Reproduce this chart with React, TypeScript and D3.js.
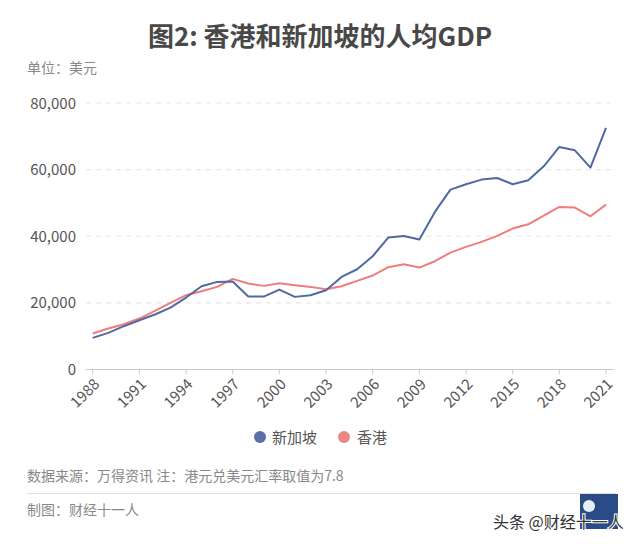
import React from "react";
import * as d3 from "d3";

const years = [1988,1989,1990,1991,1992,1993,1994,1995,1996,1997,1998,1999,2000,2001,2002,2003,2004,2005,2006,2007,2008,2009,2010,2011,2012,2013,2014,2015,2016,2017,2018,2019,2020,2021];
const singapore = [9500,11000,13000,14800,16500,18600,21600,25000,26300,26400,21900,21900,24000,21800,22300,23800,27800,30100,34000,39600,40100,39000,47300,54000,55600,57000,57500,55600,56800,61000,66800,65800,60600,72500];
const hongkong = [10800,12300,13600,15300,17600,20000,22300,23500,24800,27200,25800,25100,25900,25300,24800,24100,25000,26600,28200,30700,31600,30600,32500,35100,36800,38300,40100,42300,43600,46200,48800,48600,46000,49500];
const yTicks = [0,20000,40000,60000,80000];
const xTickYears = [1988,1991,1994,1997,2000,2003,2006,2009,2012,2015,2018,2021];
const seriesNames = ["新加坡","香港"];

const W = 640, H = 544;
const FONT = "'Noto Sans CJK SC','Noto Sans',sans-serif";
const BLUE = "#5069a2";
const RED = "#f07c7c";

export default function App() {
  const x = d3.scaleLinear().domain([1988, 2021]).range([92.7, 606]);
  const y = d3.scaleLinear().domain([0, 80000]).range([369.5, 103]);
  const line = (vals: number[]) =>
    d3.line<number>().x((_, i) => x(years[i])).y((v) => y(v))(vals) || "";
  const fmt = d3.format(",");
  return (
    <svg width={W} height={H} style={{ position: "absolute", left: 0, top: 0 }} fontFamily={FONT}>
      <rect width={W} height={H} fill="#fff" />
      <text x={320} y={46} textAnchor="middle" fontSize={26} fontWeight="bold" fill="#484848">图2: 香港和新加坡的人均GDP</text>
      <text x={27} y={73} fontSize={14} fill="#888">单位：美元</text>
      {yTicks.map((t) => (
        <g key={t}>
          {t > 0 && (
            <line x1={86} x2={614} y1={y(t)} y2={y(t)} stroke="#e6e6e6" strokeWidth={1.2} strokeDasharray="5,5" />
          )}
          <text x={76} y={y(t) + 5.5} textAnchor="end" fontSize={15} fill="#555">{fmt(t)}</text>
        </g>
      ))}
      <line x1={86} x2={614} y1={y(0)} y2={y(0)} stroke="#ccc" strokeWidth={1} />
      {xTickYears.map((yr) => (
        <g key={yr}>
          <line x1={x(yr)} x2={x(yr)} y1={y(0)} y2={y(0) + 5} stroke="#ccc" />
          <text
            transform={`translate(${x(yr) + 4},${y(0) + 12}) rotate(-45)`}
            textAnchor="end"
            fontSize={15}
            fill="#555"
            dy="0.35em"
          >{yr}</text>
        </g>
      ))}
      <path d={line(hongkong)} fill="none" stroke={RED} strokeWidth={2} strokeLinejoin="round" />
      <path d={line(singapore)} fill="none" stroke={BLUE} strokeWidth={2} strokeLinejoin="round" />
      <circle cx={260} cy={437} r={6} fill="#5b70a6" />
      <text x={272} y={442.5} fontSize={15} fill="#555">{seriesNames[0]}</text>
      <circle cx={344} cy={437} r={6} fill="#ee8585" />
      <text x={357} y={442.5} fontSize={15} fill="#555">{seriesNames[1]}</text>
      <text x={27} y={481} fontSize={14} fill="#888">数据来源：万得资讯 注：港元兑美元汇率取值为7.8</text>
      <line x1={27} x2={616} y1={493.5} y2={493.5} stroke="#ddd" strokeWidth={1} />
      <text x={27} y={515} fontSize={14} fill="#888">制图：财经十一人</text>
      <rect x={580} y={494} width={38} height={35} fill="#2b4b86" />
      <circle cx={589} cy={506} r={6} fill="#e8eef8" />
      <text x={493} y={528} fontSize={16} fill="#333" stroke="#fff" strokeWidth={2} paintOrder="stroke">头条 @财经十一人</text>
    </svg>
  );
}
